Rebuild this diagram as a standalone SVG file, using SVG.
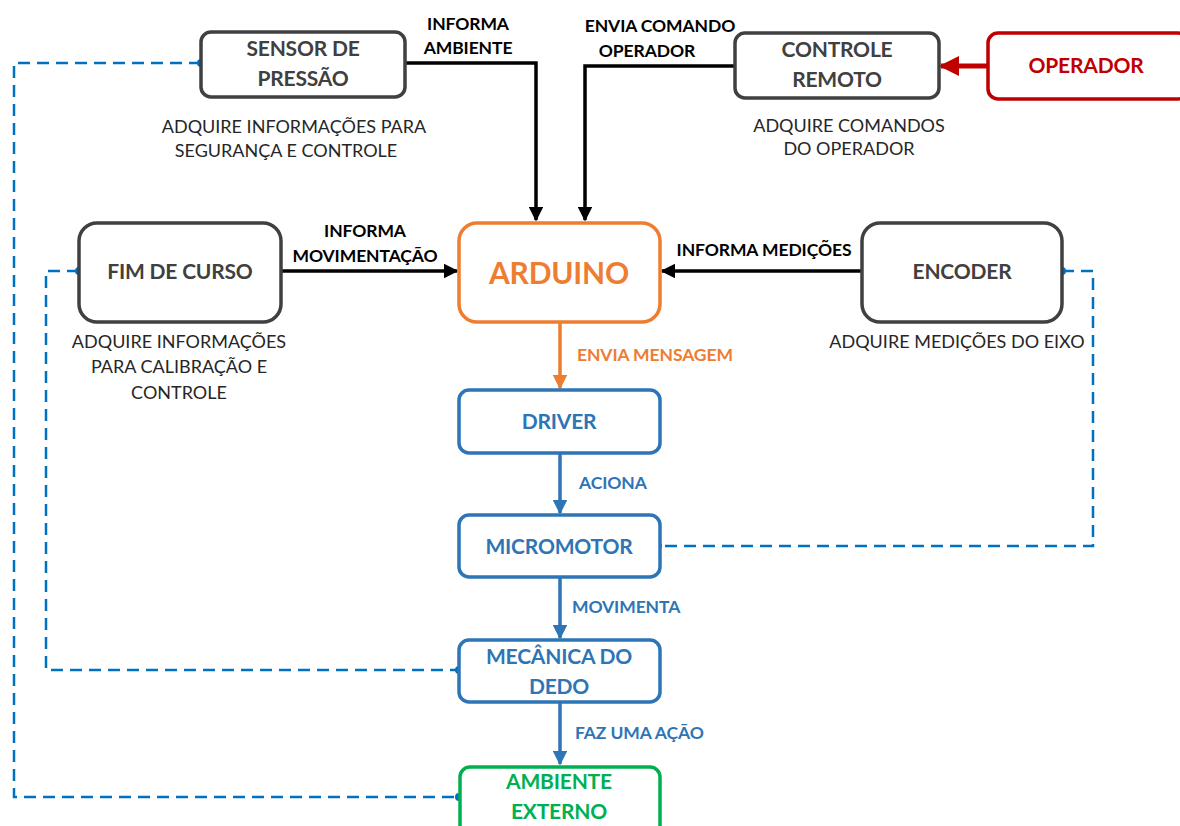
<svg xmlns="http://www.w3.org/2000/svg" width="1180" height="826" viewBox="0 0 1180 826">
  <defs>
    <style>
      .box { fill: #fff; stroke-width: 3.5; }
      .gray { stroke: #404040; }
      .title { font-family: Lato, "Liberation Sans", sans-serif; font-weight: bold; font-size: 21px; text-anchor: middle; letter-spacing: -0.2px; }
      .lbl { font-family: Lato, "Liberation Sans", sans-serif; font-weight: bold; font-size: 17.5px; letter-spacing: -0.1px; }
      .desc { font-family: Lato, "Liberation Sans", sans-serif; font-size: 18px; fill: #262626; text-anchor: middle; }
      .solid { fill: none; stroke-width: 3.5; }
      .thick { fill: none; stroke-width: 5; }
      .dash { fill: none; stroke: #0070C0; stroke-width: 2.5; stroke-dasharray: 12 7; }
    </style>
    <marker id="ahBlack" viewBox="0 0 10 10" refX="9" refY="5" markerWidth="4.2" markerHeight="4.2" orient="auto" markerUnits="strokeWidth">
      <path d="M0,0 L10,5 L0,10 z" fill="#000"/>
    </marker>
    <marker id="ahOrange" viewBox="0 0 10 10" refX="9" refY="5" markerWidth="4.2" markerHeight="4.2" orient="auto" markerUnits="strokeWidth">
      <path d="M0,0 L10,5 L0,10 z" fill="#ED7D31"/>
    </marker>
    <marker id="ahBlue" viewBox="0 0 10 10" refX="9" refY="5" markerWidth="4.2" markerHeight="4.2" orient="auto" markerUnits="strokeWidth">
      <path d="M0,0 L10,5 L0,10 z" fill="#2E75B6"/>
    </marker>
    <marker id="ahRed" viewBox="0 0 10 10" refX="9" refY="5" markerWidth="4" markerHeight="4.4" orient="auto" markerUnits="strokeWidth">
      <path d="M0,0 L10,5 L0,10 z" fill="#C00000"/>
    </marker>
    <marker id="dot" viewBox="0 0 10 10" refX="5" refY="5" markerWidth="3.2" markerHeight="3.2" orient="auto" markerUnits="strokeWidth">
      <circle cx="5" cy="5" r="5" fill="#0070C0"/>
    </marker>
  </defs>

  <rect width="1180" height="826" fill="#fff"/>

  <!-- connectors -->
  <g id="connectors">
    <!-- feedback loops (dashed) -->
    <polyline class="dash" points="201,63 14,63 14,797 459,797" marker-start="url(#dot)" marker-end="url(#dot)"/>
    <polyline class="dash" points="79,271 46,271 46,670 459,670" marker-start="url(#dot)" marker-end="url(#dot)"/>
    <polyline class="dash" points="1062,271 1093,271 1093,546 658,546" marker-start="url(#dot)" marker-end="url(#dot)"/>

    <!-- inputs to the Arduino -->
    <polyline class="solid" stroke="#000" points="405,63 536,63 536,220" marker-end="url(#ahBlack)"/>
    <polyline class="solid" stroke="#000" points="735,66 585,66 585,220" marker-end="url(#ahBlack)"/>
    <line class="solid" stroke="#000" x1="281" y1="271" x2="457" y2="271" marker-end="url(#ahBlack)"/>
    <line class="solid" stroke="#000" x1="862" y1="271" x2="662" y2="271" marker-end="url(#ahBlack)"/>

    <!-- operator to remote control -->
    <line class="thick" stroke="#C00000" x1="987" y1="66" x2="941" y2="66" marker-end="url(#ahRed)"/>

    <!-- output chain -->
    <line class="solid" stroke="#ED7D31" x1="560" y1="322" x2="560" y2="388" marker-end="url(#ahOrange)"/>
    <line class="solid" stroke="#2E75B6" x1="560" y1="453" x2="560" y2="513" marker-end="url(#ahBlue)"/>
    <line class="solid" stroke="#2E75B6" x1="560" y1="577" x2="560" y2="638" marker-end="url(#ahBlue)"/>
    <line class="solid" stroke="#2E75B6" x1="560" y1="702" x2="560" y2="764" marker-end="url(#ahBlue)"/>

    <!-- connector labels -->
    <text class="lbl" fill="#000" text-anchor="middle" x="468" y="30">INFORMA</text>
    <text class="lbl" fill="#000" text-anchor="middle" x="468" y="54">AMBIENTE</text>
    <text class="lbl" fill="#000" text-anchor="middle" x="660" y="32">ENVIA COMANDO</text>
    <text class="lbl" fill="#000" text-anchor="middle" x="647" y="57">OPERADOR</text>
    <text class="lbl" fill="#000" text-anchor="middle" x="365" y="237">INFORMA</text>
    <text class="lbl" fill="#000" text-anchor="middle" x="365" y="262">MOVIMENTAÇÃO</text>
    <text class="lbl" fill="#000" text-anchor="middle" x="764" y="256">INFORMA MEDIÇÕES</text>
    <text class="lbl" fill="#ED7D31" x="577" y="361">ENVIA MENSAGEM</text>
    <text class="lbl" fill="#2E75B6" x="579" y="489">ACIONA</text>
    <text class="lbl" fill="#2E75B6" x="572" y="613">MOVIMENTA</text>
    <text class="lbl" fill="#2E75B6" x="575" y="739">FAZ UMA AÇÃO</text>
  </g>

  <g id="sensor-pressao">
    <rect class="box gray" x="201" y="32" width="204" height="65" rx="10"/>
    <text class="title" fill="#404040" x="303" y="56">SENSOR DE</text>
    <text class="title" fill="#404040" x="303" y="86">PRESSÃO</text>
    <text class="desc" x="294" y="133">ADQUIRE INFORMAÇÕES PARA</text>
    <text class="desc" x="286" y="157">SEGURANÇA E CONTROLE</text>
  </g>

  <g id="controle-remoto">
    <rect class="box gray" x="735" y="33" width="204" height="65" rx="10"/>
    <text class="title" fill="#404040" x="837" y="57">CONTROLE</text>
    <text class="title" fill="#404040" x="837" y="87">REMOTO</text>
    <text class="desc" x="849" y="132">ADQUIRE COMANDOS</text>
    <text class="desc" x="849" y="155">DO OPERADOR</text>
  </g>

  <g id="operador">
    <rect class="box" stroke="#C00000" x="988" y="33" width="200" height="66" rx="10"/>
    <text class="title" fill="#C00000" x="1086" y="73">OPERADOR</text>
  </g>

  <g id="fim-de-curso">
    <rect class="box gray" x="79" y="223" width="202" height="99" rx="18"/>
    <text class="title" fill="#404040" x="180" y="279">FIM DE CURSO</text>
    <text class="desc" x="179" y="348">ADQUIRE INFORMAÇÕES</text>
    <text class="desc" x="179" y="373">PARA CALIBRAÇÃO E</text>
    <text class="desc" x="179" y="399">CONTROLE</text>
  </g>

  <g id="arduino">
    <rect class="box" stroke="#ED7D31" x="459" y="223" width="201" height="99" rx="18"/>
    <text class="title" fill="#ED7D31" x="559" y="284" style="font-size:30px">ARDUINO</text>
  </g>

  <g id="encoder">
    <rect class="box gray" x="862" y="223" width="200" height="99" rx="18"/>
    <text class="title" fill="#404040" x="962" y="279">ENCODER</text>
    <text class="desc" x="957" y="348">ADQUIRE MEDIÇÕES DO EIXO</text>
  </g>

  <g id="driver">
    <rect class="box" stroke="#2E75B6" x="459" y="390" width="201" height="63" rx="10"/>
    <text class="title" fill="#2E75B6" x="559" y="429">DRIVER</text>
  </g>

  <g id="micromotor">
    <rect class="box" stroke="#2E75B6" x="459" y="515" width="201" height="62" rx="10"/>
    <text class="title" fill="#2E75B6" x="559" y="554">MICROMOTOR</text>
  </g>

  <g id="mecanica-dedo">
    <rect class="box" stroke="#2E75B6" x="459" y="640" width="201" height="62" rx="10"/>
    <text class="title" fill="#2E75B6" x="559" y="664">MECÂNICA DO</text>
    <text class="title" fill="#2E75B6" x="559" y="694">DEDO</text>
  </g>

  <g id="ambiente-externo">
    <rect class="box" stroke="#00B050" x="460" y="767" width="200" height="70" rx="10"/>
    <text class="title" fill="#00B050" x="559" y="789">AMBIENTE</text>
    <text class="title" fill="#00B050" x="559" y="819">EXTERNO</text>
  </g>
</svg>
